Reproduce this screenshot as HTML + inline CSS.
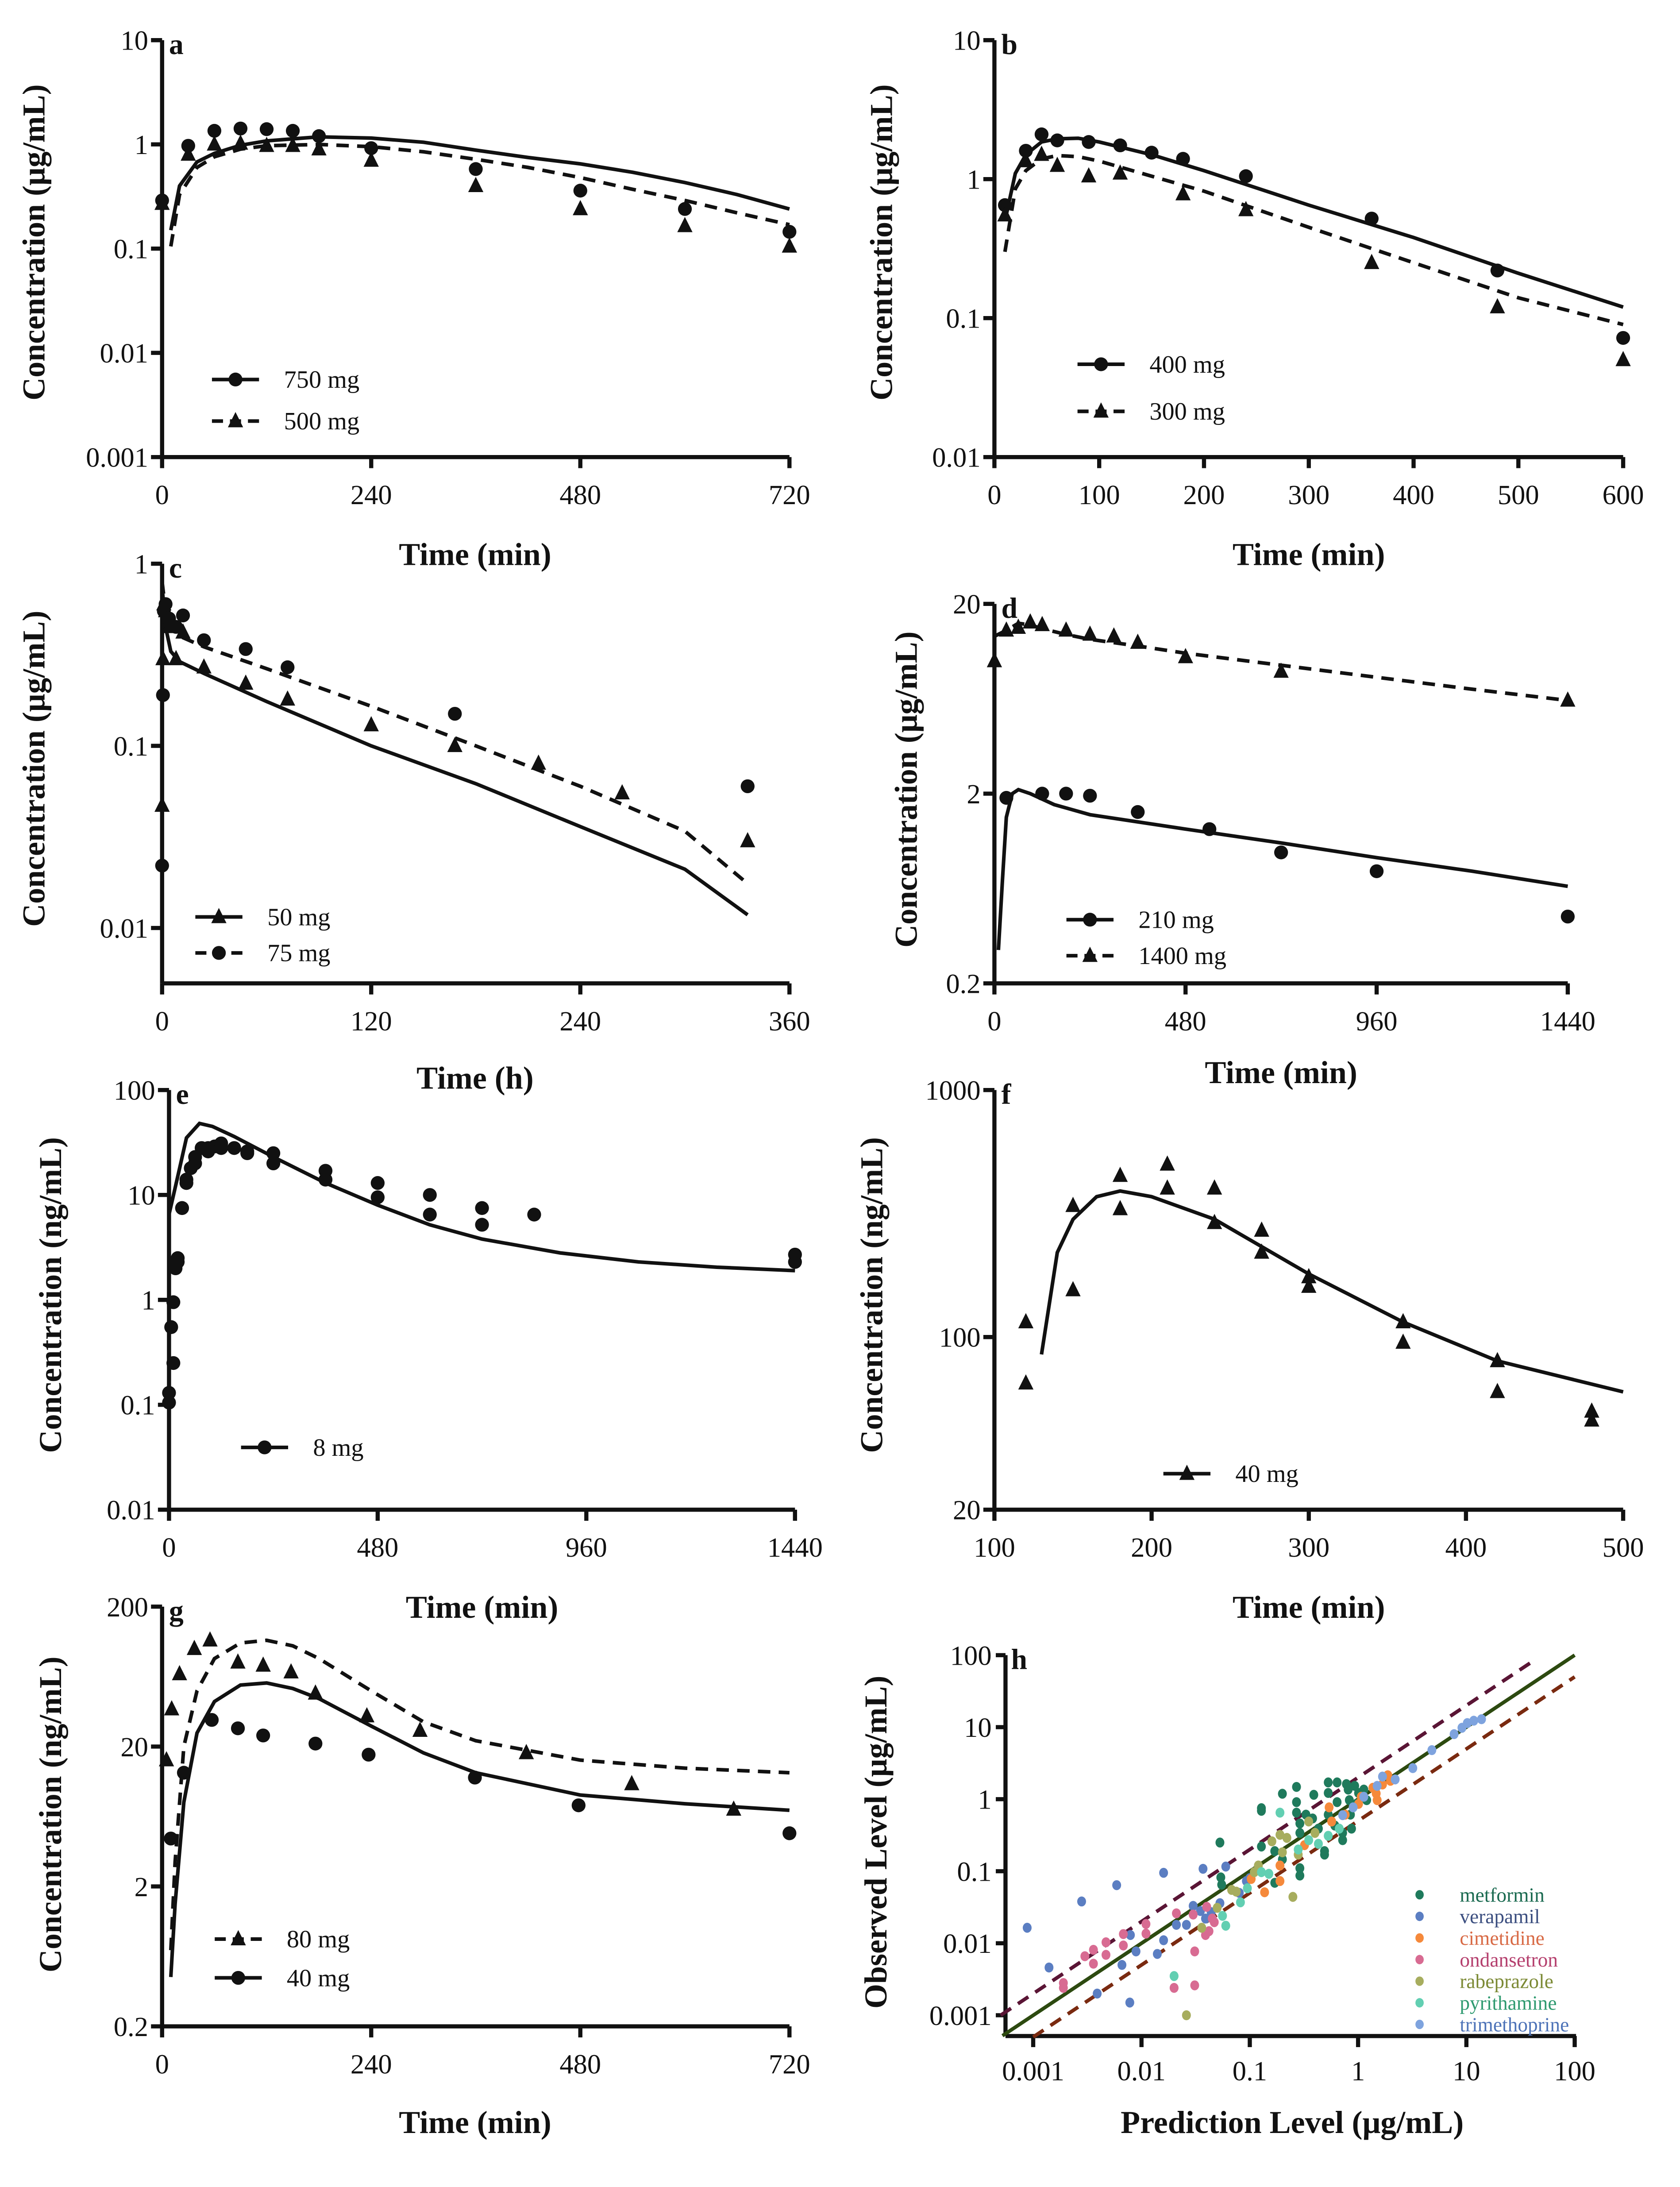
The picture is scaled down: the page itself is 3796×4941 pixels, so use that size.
<!DOCTYPE html>
<html><head><meta charset="utf-8"><title>PK profiles</title>
<style>
html,body{margin:0;padding:0;background:#fff;}
svg{display:block;}
text{font-family:"Liberation Serif",serif;fill:#111;}
.tk{font-size:20px;}
.ttl{font-size:23px;font-weight:bold;}
.lg{font-size:18px;}
.let{font-size:21px;font-weight:bold;}
</style></head>
<body>
<svg id="fig" xmlns="http://www.w3.org/2000/svg" width="3796" height="4941" viewBox="0 0 1213 1579">
<rect x="0" y="0" width="1213" height="1579" fill="#fff"/>
</svg>
<script>
// ---------- Panel a ----------
const aT750=[0,30,60,90,120,150,180,240,360,480,600,720];
const aC750=[0.29,0.97,1.35,1.42,1.4,1.35,1.2,0.92,0.58,0.36,0.24,0.145];
const aT500=[0,30,60,90,120,150,180,240,360,480,600,720];
const aC500=[0.27,0.8,1.0,1.02,0.97,0.97,0.9,0.7,0.4,0.24,0.165,0.105];
const aLT=[10,20,40,60,90,120,180,240,300,360,420,480,540,600,660,720];
const aL750=[0.15,0.4,0.68,0.82,0.98,1.08,1.18,1.15,1.05,0.88,0.75,0.65,0.54,0.43,0.33,0.24];
const aL500=[0.105,0.33,0.6,0.76,0.9,0.97,1.0,0.95,0.85,0.72,0.6,0.48,0.37,0.29,0.22,0.17];
const aXT=[0,240,480,720];
const aYT=["10","1","0.1","0.01","0.001"];
// ---------- Panel b ----------
const bT400=[10,30,45,60,90,120,150,180,240,360,480,600];
const bC400=[0.65,1.6,2.1,1.9,1.85,1.75,1.55,1.4,1.05,0.52,0.22,0.072];
const bT300=[10,30,45,60,90,120,180,240,360,480,600];
const bC300=[0.55,1.35,1.5,1.25,1.05,1.1,0.78,0.6,0.25,0.12,0.05];
const bLT=[10,20,30,45,60,80,100,150,200,300,400,500,600];
const bL400=[0.5,1.1,1.5,1.85,1.95,1.97,1.85,1.5,1.15,0.65,0.38,0.21,0.12];
const bL300=[0.3,0.85,1.15,1.4,1.48,1.45,1.35,1.05,0.82,0.45,0.25,0.14,0.09];
const bXT=[0,100,200,300,400,500,600];
const bYT=["10","1","0.1","0.01"];
// ---------- Panel c ----------
const cT50=[0,0.5,1,2,4,8,12,24,48,72,120,168,216,264,336];
const cC50=[0.047,0.3,0.6,0.55,0.45,0.3,0.42,0.27,0.22,0.18,0.13,0.1,0.08,0.055,0.03];
const cT75=[0,0.5,1,2,4,8,12,24,48,72,168,336];
const cC75=[0.022,0.19,0.55,0.6,0.5,0.45,0.52,0.38,0.34,0.27,0.15,0.06];
const cLT=[0,2,5,10,24,60,120,180,240,300,336];
const cL50=[0.75,0.45,0.33,0.29,0.25,0.175,0.1,0.062,0.036,0.021,0.0118];
const cL75=[0.8,0.55,0.45,0.4,0.35,0.265,0.165,0.1,0.06,0.034,0.0175];
const cXT=[0,120,240,360];
const cYT=["1","0.1","0.01"];
// ---------- Panel d ----------
const dT1400=[0,30,60,90,120,180,240,300,360,480,720,1440];
const dC1400=[10,14.5,15,16,15.5,14.5,13.8,13.5,12.5,10.5,8.8,6.2];
const dT210=[30,120,180,240,360,540,720,960,1440];
const dC210=[1.9,2.0,2.0,1.95,1.6,1.3,0.98,0.78,0.45];
const dLT1400=[0,30,60,90,120,180,240,360,480,720,960,1200,1440];
const dL1400=[13.5,14.5,15.8,15.5,14.8,13.8,13,12,11,9.5,8.2,7.1,6.2];
const dLT210=[10,20,30,45,60,90,150,240,480,720,960,1200,1440];
const dL210=[0.3,0.7,1.5,2.0,2.1,2.0,1.75,1.55,1.3,1.1,0.92,0.78,0.65];
const dXT=[0,480,960,1440];
const dYT=["20","2","0.2"];
// ---------- Panel e ----------
const eT=[0,0,5,10,10,15,20,20,30,30,40,40,50,60,60,75,90,90,105,120,120,150,180,180,240,240,360,360,480,480,600,600,720,720,840,1440,1440];
const eC=[0.105,0.13,0.55,0.95,0.25,2.0,2.5,2.3,7.5,7.5,13,14,18,23,20,28,28,26,29,31,28,28,26,25,25,20,17,14,13,9.5,10,6.5,7.5,5.2,6.5,2.7,2.3];
const eLT=[0,20,40,70,100,150,240,360,480,600,720,900,1080,1260,1440];
const eL=[6.5,15,35,48,45,36,23,13,8,5.2,3.8,2.8,2.3,2.05,1.9];
const eXT=[0,480,960,1440];
const eYT=["100","10","1","0.1","0.01"];
// ---------- Panel f ----------
const fT=[120,120,150,150,180,180,210,210,240,240,270,270,300,300,360,360,420,420,480,480];
const fC=[115,65,340,155,450,330,500,400,400,290,270,220,175,160,115,95,80,60,50,46];
const fLT=[130,140,150,165,180,200,240,300,360,420,500];
const fL=[85,220,300,370,390,370,300,180,115,80,60];
const fXT=[100,200,300,400,500];
const fYT=["1000","100","20"];
// ---------- Panel g ----------
const gT80=[5,11,20,37,55,87,116,148,176,235,296,418,539,656];
const gC80=[16,37,66,100,115,80,76,68,48,33,26,18,10.8,7.1];
const gT40=[10,25,57,87,116,176,237,359,478,720];
const gC40=[4.4,13,31,27,24,21,17.5,12,7.6,4.8];
const gLT=[10,15,25,40,60,90,120,150,180,240,300,360,480,600,720];
const gL80=[0.7,3,20,50,85,110,115,105,85,50,30,22,16,14,13];
const gL40=[0.45,1.5,8,25,42,55,57,52,44,28,18,13,9,7.8,7];
const gXT=[0,240,480,720];
const gYT=["200","20","2","0.2"];
// ---------- Panel h ----------
const hDrugs=["metformin","verapamil","cimetidine","ondansetron","rabeprazole","pyrithamine","trimethoprine"];
const hMetP=[0.053,0.054,0.055,0.128,0.128,0.128,0.17,0.17,0.2,0.2,0.27,0.27,0.27,0.29,0.29,0.29,0.29,0.38,0.39,0.49,0.49,0.53,0.53,0.53,0.61,0.64,0.64,0.72,0.78,0.81,0.83,0.85,0.87,0.93,0.96,1.01,1.13,1.2,0.72,0.43,0.33];
const hMetO=[0.25,0.082,0.065,0.75,0.69,0.22,0.19,0.069,1.19,0.146,1.48,0.91,0.65,0.46,0.34,0.11,0.087,0.54,1.15,0.17,0.19,1.71,1.22,0.61,0.43,1.71,0.91,0.34,1.62,1.36,0.97,0.61,0.39,1.53,0.86,1.22,1.36,0.97,0.27,0.39,0.61];
const hVerP=[0.00088,0.0014,0.0028,0.0039,0.0059,0.0066,0.0078,0.0079,0.0089,0.014,0.016,0.016,0.021,0.026,0.03,0.037,0.035,0.039,0.044,0.053,0.06,0.08,0.093,0.1];
const hVerO=[0.0164,0.0046,0.038,0.002,0.064,0.005,0.0015,0.013,0.0077,0.0071,0.095,0.011,0.018,0.018,0.033,0.108,0.028,0.022,0.027,0.036,0.116,0.05,0.073,0.08];
const hCimP=[1.37,1.47,1.5,1.68,1.88,1.99,1.07,1.01,0.76,0.54,0.57,0.32,0.19,0.19,0.137,0.103];
const hCimO=[1.44,1.2,0.97,1.6,2.15,1.8,1.08,0.86,0.61,0.77,0.49,0.23,0.12,0.073,0.051,0.078];
const hOndP=[0.0019,0.0019,0.003,0.0036,0.0036,0.0047,0.0047,0.0068,0.0068,0.011,0.011,0.02,0.021,0.031,0.031,0.03,0.04,0.042,0.045,0.047,0.039];
const hOndO=[0.0028,0.0024,0.0066,0.0081,0.0052,0.0103,0.0069,0.0134,0.0093,0.0185,0.0136,0.0024,0.026,0.0077,0.0026,0.025,0.032,0.0147,0.022,0.0196,0.013];
const hRabP=[0.026,0.036,0.05,0.068,0.075,0.11,0.12,0.16,0.19,0.2,0.22,0.25,0.35,0.4,0.28];
const hRabO=[0.001,0.0164,0.031,0.055,0.052,0.097,0.12,0.26,0.32,0.183,0.29,0.044,0.49,0.34,0.17];
const hPyrP=[0.02,0.056,0.06,0.082,0.095,0.128,0.15,0.19,0.28,0.35,0.43,0.53,0.67];
const hPyrO=[0.0035,0.024,0.0175,0.037,0.058,0.097,0.092,0.65,0.2,0.27,0.24,0.31,0.39];
const hTriP=[1.68,2.2,3.2,4.8,7.7,9.1,10.2,11.7,13.8,0.72,0.9,1.13,1.5];
const hTriO=[2.06,1.88,2.7,4.8,8,9.8,11.4,12.3,12.9,0.6,0.77,1.08,1.53];
const hXT=["0.001","0.01","0.1","1","10","100"];
const hYT=["100","10","1","0.1","0.01","0.001"];

const NS="http://www.w3.org/2000/svg";
const svg=document.getElementById('fig');
function mk(tag,attrs,parent){const e=document.createElementNS(NS,tag);for(const k in attrs)e.setAttribute(k,attrs[k]);(parent||svg).appendChild(e);return e;}
function lin(d0,d1,r0,r1){return v=>r0+(v-d0)*(r1-r0)/(d1-d0);}
function lg(d0,d1,r0,r1){const a=Math.log10(d0),b=Math.log10(d1);return v=>r0+(Math.log10(v)-a)*(r1-r0)/(b-a);}

function axes(g,cfg){
  const ax=mk('line',{x1:cfg.x0,y1:cfg.yTop,x2:cfg.x0,y2:cfg.yBot,stroke:'#111','stroke-width':3},g);
  
  
  const bx=mk('line',{x1:cfg.x0,y1:cfg.yBot,x2:cfg.x1,y2:cfg.yBot,stroke:'#111','stroke-width':3},g);
  
  
  cfg.xt.forEach(t=>{const x=cfg.X(+t);
    const l=mk('line',{x1:x,y1:cfg.yBot,x2:x,y2:cfg.yBot+8,stroke:'#111','stroke-width':3},g);
    
    
    const tx=mk('text',{x:x,y:cfg.yBot+34,'text-anchor':'middle',class:'tk'},g);tx.textContent=t;
    
    });
  cfg.yt.forEach(t=>{const y=cfg.Y(+t);
    const l=mk('line',{x1:cfg.x0-8,y1:y,x2:cfg.x0,y2:y,stroke:'#111','stroke-width':3},g);
    
    
    const tx=mk('text',{x:cfg.x0-10,y:y+7,'text-anchor':'end',class:'tk'},g);tx.textContent=t;
    
    });
  const xl=mk('text',{x:cfg.xlabPos[0],y:cfg.xlabPos[1],'text-anchor':'middle',class:'ttl','font-size':cfg.tsize||23},g);xl.textContent=cfg.xlab;
  
  
  const yl=mk('text',{x:0,y:0,'text-anchor':'middle',class:'ttl','font-size':cfg.tsize||23,transform:`translate(${cfg.ylabPos[0]},${cfg.ylabPos[1]}) rotate(-90)`},g);yl.textContent=cfg.ylab;
  
  
  const le=mk('text',{x:cfg.x0+5,y:cfg.yTop+10,class:'let'},g);le.textContent=cfg.letter;
  
  
}
function curve(g,X,Y,xs,ys,dash,name,color){
  const d=xs.map((t,i)=>(i?'L':'M')+X(t).toFixed(1)+','+Y(ys[i]).toFixed(1)).join(' ');
  const p=mk('path',{d:d,fill:'none',stroke:color||'#111','stroke-width':2.6,'stroke-dasharray':dash?'9,6':'none'},g);
  
  
}
function marker(g,x,y,shape){
  let e;
  if(shape==='c') e=mk('circle',{cx:x,cy:y,r:5,fill:'#111'},g);
  else e=mk('polygon',{points:`${x},${y-6.5} ${x-5.5},${y+4.5} ${x+5.5},${y+4.5}`,fill:'#111'},g);
  return e;
}
function points(g,X,Y,xs,ys,shape,name){
  xs.forEach((t,i)=>{const e=marker(g,X(t),Y(ys[i]),shape);
    
    });
}
function legend(g,x,y,shape,dash,label){
  const l=mk('line',{x1:x,y1:y,x2:x+34,y2:y,stroke:'#111','stroke-width':2.6,'stroke-dasharray':dash?'8,5':'none'},g);
  
  
  const m=marker(g,x+17,y,shape);
  
  
  const t=mk('text',{x:x+52,y:y+6,class:'lg'},g);t.textContent=label;
  
  
}
function grp(name){const g=mk('g',{});return g;}

(function(){const g=grp('panel-a');
 const X=lin(0,720,117,570),Y=lg(10,0.001,29,330);
 axes(g,{x0:117,x1:570,yTop:29,yBot:330,X,Y,xt:aXT,yt:aYT,xlab:'Time (min)',ylab:'Concentration (μg/mL)',xlabPos:[343,408],ylabPos:[32,175],letter:'a'});
 curve(g,X,Y,aLT,aL750,false,'line-750mg');curve(g,X,Y,aLT,aL500,true,'line-500mg');
 points(g,X,Y,aT750,aC750,'c','point-750mg');points(g,X,Y,aT500,aC500,'t','point-500mg');
 legend(g,153,274,'c',false,'750 mg');legend(g,153,304,'t',true,'500 mg');})();
(function(){const g=grp('panel-b');
 const X=lin(0,600,718,1172),Y=lg(10,0.01,29,330);
 axes(g,{x0:718,x1:1172,yTop:29,yBot:330,X,Y,xt:bXT,yt:bYT,xlab:'Time (min)',ylab:'Concentration (μg/mL)',xlabPos:[945,408],ylabPos:[644,175],letter:'b'});
 curve(g,X,Y,bLT,bL400,false,'line-400mg');curve(g,X,Y,bLT,bL300,true,'line-300mg');
 points(g,X,Y,bT400,bC400,'c','point-400mg');points(g,X,Y,bT300,bC300,'t','point-300mg');
 legend(g,778,263,'c',false,'400 mg');legend(g,778,297,'t',true,'300 mg');})();
(function(){const g=grp('panel-c');
 const X=lin(0,360,117,570),Y=lg(1,0.01,407,670);
 axes(g,{x0:117,x1:570,yTop:407,yBot:710,X,Y,xt:cXT,yt:cYT,xlab:'Time (h)',ylab:'Concentration (μg/mL)',xlabPos:[343,786],ylabPos:[32,555],letter:'c'});
 curve(g,X,Y,cLT,cL50,false,'line-50mg');curve(g,X,Y,cLT,cL75,true,'line-75mg');
 points(g,X,Y,cT50,cC50,'t','point-50mg');points(g,X,Y,cT75,cC75,'c','point-75mg');
 legend(g,141,662,'t',false,'50 mg');legend(g,141,688,'c',true,'75 mg');})();
(function(){const g=grp('panel-d');
 const X=lin(0,1440,718,1132),Y=lg(20,0.2,436,710);
 axes(g,{x0:718,x1:1132,yTop:436,yBot:710,X,Y,xt:dXT,yt:dYT,xlab:'Time (min)',ylab:'Concentration (μg/mL)',xlabPos:[925,782],ylabPos:[662,570],letter:'d',tsize:20});
 curve(g,X,Y,dLT1400,dL1400,true,'line-1400mg');curve(g,X,Y,dLT210,dL210,false,'line-210mg');
 points(g,X,Y,dT1400,dC1400,'t','point-1400mg');points(g,X,Y,dT210,dC210,'c','point-210mg');
 legend(g,770,664,'c',false,'210 mg');legend(g,770,690,'t',true,'1400 mg');})();
(function(){const g=grp('panel-e');
 const X=lin(0,1440,122,574),Y=lg(100,0.01,787,1090);
 axes(g,{x0:122,x1:574,yTop:787,yBot:1090,X,Y,xt:eXT,yt:eYT,xlab:'Time (min)',ylab:'Concentration (ng/mL)',xlabPos:[348,1168],ylabPos:[44,935],letter:'e'});
 curve(g,X,Y,eLT,eL,false,'line-8mg');
 points(g,X,Y,eT,eC,'c','point-8mg');
 legend(g,174,1045,'c',false,'8 mg');})();
(function(){const g=grp('panel-f');
 const X=lin(100,500,718,1172),Y=lg(1000,20,787,1090);
 axes(g,{x0:718,x1:1172,yTop:787,yBot:1090,X,Y,xt:fXT,yt:fYT,xlab:'Time (min)',ylab:'Concentration (ng/mL)',xlabPos:[945,1168],ylabPos:[637,935],letter:'f'});
 curve(g,X,Y,fLT,fL,false,'line-40mg');
 points(g,X,Y,fT,fC,'t','point-40mg');
 legend(g,840,1064,'t',false,'40 mg');})();
(function(){const g=grp('panel-g');
 const X=lin(0,720,117,570),Y=lg(200,0.2,1160,1463);
 axes(g,{x0:117,x1:570,yTop:1160,yBot:1463,X,Y,xt:gXT,yt:gYT,xlab:'Time (min)',ylab:'Concentration (ng/mL)',xlabPos:[343,1540],ylabPos:[44,1310],letter:'g'});
 curve(g,X,Y,gLT,gL80,true,'line-80mg');curve(g,X,Y,gLT,gL40,false,'line-40mg');
 points(g,X,Y,gT80,gC80,'t','point-80mg');points(g,X,Y,gT40,gC40,'c','point-40mg');
 legend(g,155,1400,'t',true,'80 mg');legend(g,155,1428,'c',false,'40 mg');})();
(function(){const g=grp('panel-h');
 const X=lg(0.001,100,746,1137),Y=lg(100,0.001,1195,1455);
 const yB=1470;
 const ya=mk('line',{x1:726,y1:1195,x2:726,y2:yB,stroke:'#111','stroke-width':3},g);
 
 
 const xa=mk('line',{x1:726,y1:yB,x2:1138,y2:yB,stroke:'#111','stroke-width':3},g);
 
 
 hXT.forEach(t=>{const x=X(+t);
   const l=mk('line',{x1:x,y1:yB,x2:x,y2:yB+8,stroke:'#111','stroke-width':3},g);
   
   
   const tx=mk('text',{x:x,y:yB+32,'text-anchor':'middle',class:'tk'},g);tx.textContent=t;
   
   });
 hYT.forEach(t=>{const y=Y(+t);
   const l=mk('line',{x1:719,y1:y,x2:726,y2:y,stroke:'#111','stroke-width':3},g);
   
   
   const tx=mk('text',{x:716,y:y+7,'text-anchor':'end',class:'tk'},g);tx.textContent=t;
   
   });
 const xl=mk('text',{x:933,y:1540,'text-anchor':'middle',class:'ttl'},g);xl.textContent='Prediction Level (μg/mL)';
 
 
 const yl=mk('text',{x:0,y:0,'text-anchor':'middle',class:'ttl',transform:'translate(640,1330) rotate(-90)'},g);yl.textContent='Observed Level (μg/mL)';
 
 
 const le=mk('text',{x:730,y:1205,class:'let'},g);le.textContent='h';
 
 
 curve(g,X,Y,[0.0005,40],[0.001,80],true,'upper-2fold-line','#5a1535');
 curve(g,X,Y,[0.001,100],[0.0005,50],true,'lower-2fold-line','#7a2a10');
 curve(g,X,Y,[0.00052,100],[0.00052,100],false,'identity-line','#2d4a10');
 const cols=['#1f7a5c','#5b7ec2','#f5893b','#d86b92','#a7ad5e','#62cfb2','#7ea3de'];
 const tcols=['#1a6a50','#3c4f80','#d86a45','#b5406e','#7c8a35','#2f9a70','#4f74b8'];
 const P=[hMetP,hVerP,hCimP,hOndP,hRabP,hPyrP,hTriP],O=[hMetO,hVerO,hCimO,hOndO,hRabO,hPyrO,hTriO];
 P.forEach((ps,k)=>ps.forEach((p,i)=>{
   const c=mk('ellipse',{cx:X(p),cy:Y(O[k][i]),rx:3.2,ry:3.6,fill:cols[k]},g);
   
   }));
 hDrugs.forEach((d,k)=>{const y=1368+k*15.6;
   const c=mk('ellipse',{cx:1025,cy:y,rx:3,ry:3.4,fill:cols[k]},g);
   
   
   const t=mk('text',{x:1054,y:y+5,'font-size':14.5},g);t.textContent=d;t.style.fill=tcols[k];
   
   });
})();
</script>
</body></html>
